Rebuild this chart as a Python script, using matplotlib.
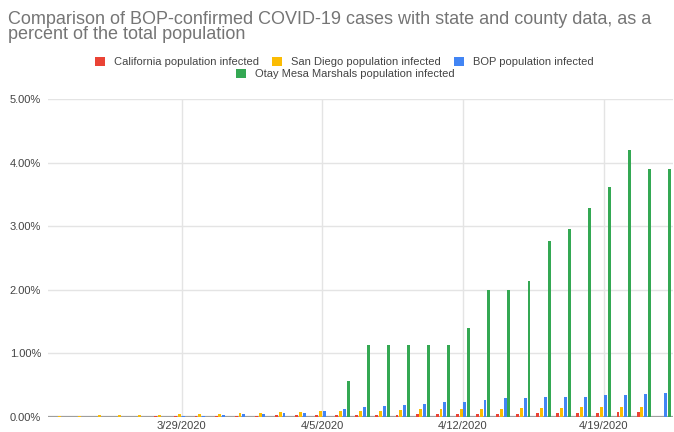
import numpy as np
import matplotlib
matplotlib.use('Agg')
import matplotlib.pyplot as plt
from matplotlib.patches import Patch
from matplotlib.ticker import FuncFormatter

plt.rcParams['font.family'] = ['Liberation Sans', 'DejaVu Sans']

## data: percent of population infected, one value per day 3/23/2020 .. 4/22/2020
dates = ['3/23', '3/24', '3/25', '3/26', '3/27', '3/28', '3/29', '3/30', '3/31',
         '4/1', '4/2', '4/3', '4/4', '4/5', '4/6', '4/7', '4/8', '4/9', '4/10',
         '4/11', '4/12', '4/13', '4/14', '4/15', '4/16', '4/17', '4/18', '4/19',
         '4/20', '4/21', '4/22']
california = [0, 0, 0, 0, 0, 0.012, 0.015, 0.015, 0.018, 0.02, 0.022,
              0.024, 0.027, 0.03, 0.033, 0.032, 0.035, 0.036, 0.04, 0.04, 0.042,
              0.045, 0.05, 0.055, 0.056, 0.065, 0.068, 0.07, 0.078, 0.085, 0]
san_diego = [0.02, 0.02, 0.025, 0.025, 0.025, 0.035, 0.045, 0.05, 0.055, 0.062, 0.07,
             0.08, 0.085, 0.10, 0.10, 0.10, 0.10, 0.11, 0.12, 0.12, 0.12, 0.13,
             0.13, 0.14, 0.14, 0.14, 0.15, 0.15, 0.16, 0.16, 0]
bop = [0, 0, 0, 0, 0, 0, 0.015, 0.02, 0.025, 0.04, 0.05, 0.06, 0.07, 0.10, 0.13,
       0.16, 0.18, 0.19, 0.21, 0.23, 0.24, 0.26, 0.30, 0.30, 0.32, 0.31, 0.32,
       0.34, 0.34, 0.36, 0.38]
otay_mesa = [0, 0, 0, 0, 0, 0, 0, 0, 0, 0, 0, 0, 0, 0, 0.56, 1.13, 1.13, 1.13,
             1.13, 1.13, 1.40, 1.99, 1.99, 2.14, 2.77, 2.96, 3.28, 3.61, 4.20,
             3.90, 3.90]
tick_days = ['3/29', '4/5', '4/12', '4/19']

series = [('California population infected', california, '#ea4335'),
          ('San Diego population infected', san_diego, '#fbbc04'),
          ('BOP population infected', bop, '#4285f4'),
          ('Otay Mesa Marshals population infected', otay_mesa, '#34a853')]

# ==================================================================
fig = plt.figure(figsize=(6.74, 4.32), dpi=100)
ax = fig.add_axes([48/674, 15/432, 625/674, 318/432])

x = np.arange(len(dates))
bw = 0.145    ## bar width in days
step = 0.19   ## distance between bars of a group
for i, (name, vals, col) in enumerate(series):
    ax.bar(x + (i - 1.5) * step, vals, width=bw, color=col, zorder=3, linewidth=0)

ax.set_xlim(-0.65, 30.45)
ax.set_ylim(0, 5)
ax.set_yticks([0, 1, 2, 3, 4, 5])
ax.yaxis.set_major_formatter(FuncFormatter(lambda v, p: '%.2f%%' % v))
ax.set_xticks([dates.index(d) for d in tick_days])
ax.set_xticklabels([d + '/2020' for d in tick_days])
ax.tick_params(length=0, labelsize=8, labelcolor='#444444')
ax.tick_params(axis='y', pad=5)
ax.tick_params(axis='x', pad=3)
ax.grid(True, color='#e4e4e4', linewidth=1, zorder=0)
ax.axhline(0, color='#9e9e9e', linewidth=1.6, zorder=2)
for s in ax.spines.values():
    s.set_visible(False)

##title, two lines like the sheets chart.
fig.text(8/674, 1 - 11/432, 'Comparison of BOP-confirmed COVID-19 cases with state and county data, as a\npercent of the total population',
         fontsize=13, color='#757575', ha='left', va='top', linespacing=0.86)

##legend: three items in row one, one item in row two.
handles = [Patch(facecolor=c, edgecolor='none') for n, v, c in series]
names = [n for n, v, c in series]
leg1 = fig.legend(handles[:3], names[:3], loc='center', bbox_to_anchor=(0.511, 1 - 62/432),
                  ncol=3, frameon=False, fontsize=8, handlelength=0.9, handleheight=0.9,
                  handletextpad=0.8, columnspacing=1.2, borderpad=0)
for t in leg1.get_texts():
    t.set_color('#444444')
leg2 = fig.legend(handles[3:], names[3:], loc='center', bbox_to_anchor=(0.512, 1 - 74/432),
                  ncol=1, frameon=False, fontsize=8, handlelength=0.9, handleheight=0.9,
                  handletextpad=0.8, borderpad=0)
for t in leg2.get_texts():
    t.set_color('#444444')

fig.savefig('out.png', dpi=100)
